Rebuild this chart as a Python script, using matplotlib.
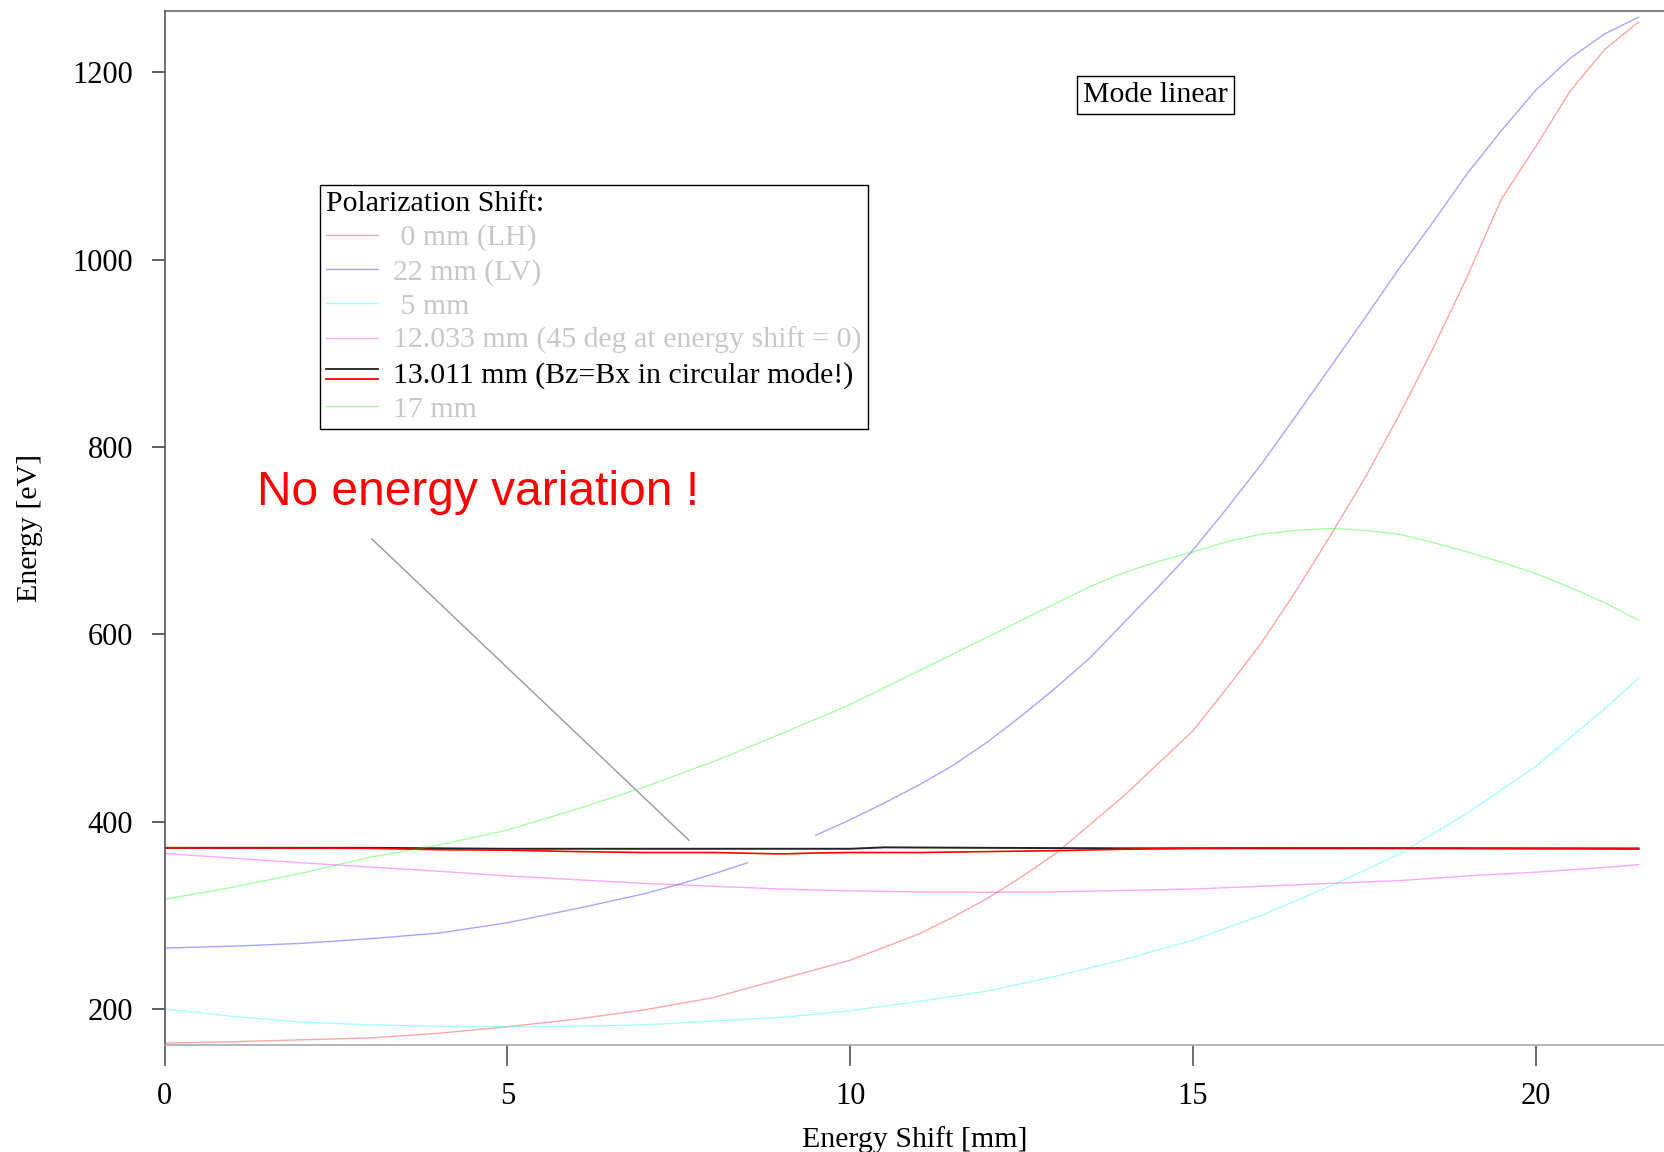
import numpy as np
import matplotlib
matplotlib.use("Agg")
import matplotlib.pyplot as plt
from matplotlib.lines import Line2D

# energy shift [mm] vs. photon energy [eV] for the different polarization shifts
shift_lh = [0, 1, 2, 3, 4, 5, 6, 7, 8, 9, 10, 11, 11.5, 12, 12.5, 13, 13.5, 14, 15, 15.5,
            16, 16.5, 17, 17.5, 18, 18.5, 19, 19.5, 20, 20.5, 21, 21.5]
energy_lh = [163.5, 165, 167, 169, 174, 181, 189, 199, 212, 232, 252, 280, 298, 318, 341, 366, 397, 428, 497, 543,
             591, 646, 705, 766, 833, 905, 982, 1065, 1121, 1180, 1224, 1254]

# 22 mm has no point between 8.5 and 9.5 mm
shift_lv = [0, 1, 2, 3, 4, 5, 6, 7, 7.5, 8, 8.5, 9, 9.5, 10, 10.5, 11, 11.5, 12, 12.5, 13, 13.5,
            14, 14.5, 15, 15.5, 16, 16.5, 17, 17.5, 18, 18.5, 19, 19.5, 20, 20.5, 21, 21.5]
energy_lv = [265, 267, 270, 275, 281, 292, 307, 323, 333, 344, 356, np.nan, 385.5, 402, 420, 439, 460, 485, 513, 543, 575,
             613, 651, 690, 735, 782, 833, 885, 937, 990, 1040, 1092, 1138, 1181, 1215, 1241, 1259]

shift_5 = [0, 1, 2, 3, 4, 5, 6, 7, 8, 9, 10, 11, 12, 13, 14, 15, 16, 17, 18, 19, 20, 21, 21.5]
energy_5 = [200, 192, 186, 183, 181.5, 181, 181.5, 183, 187, 191, 198, 208, 219, 235, 253, 273.5,
            300, 331, 365, 409, 459, 520, 553]

shift_12 = [0, 1, 2, 3, 4, 5, 6, 7, 8, 9, 10, 11, 12, 13, 14, 15, 16, 17, 18, 19, 20, 21, 21.5]
energy_12 = [366, 361, 356, 351.5, 347, 342, 338, 334, 331, 328, 326, 325, 324.5, 325, 326.5, 328,
             331, 334, 337, 342, 346, 351, 354]

shift_13_bz = [0, 3, 5, 7, 9, 10, 10.5, 12, 14, 16, 18, 21.5]
energy_13_bz = [372, 372, 371, 371, 371, 371, 372.5, 372, 371.5, 371.5, 371.5, 371]
shift_13_bx = [0, 3, 4, 5, 6, 7, 8, 9, 9.5, 10, 11, 12, 13, 14, 15, 16, 21.5]
energy_13_bx = [372, 371.5, 370, 369.5, 368, 367, 367, 365.5, 366.5, 367, 367, 368, 369, 370.5, 371.5, 372, 371.5]

shift_17 = [0, 1, 2, 3, 4, 5, 6, 7, 8, 9, 10, 11, 12, 13, 13.5, 14, 14.5, 15, 15.5, 16, 16.5,
            17, 17.5, 18, 18.5, 19, 19.5, 20, 20.5, 21, 21.5]
energy_17 = [317, 330, 345, 362, 375, 391, 413, 437, 464, 494, 525, 561, 597, 633, 651, 666, 678, 688, 699, 707, 711,
             713, 711, 707, 698, 688, 677, 665, 650, 634, 615]

labels = [" 0 mm (LH)", "22 mm (LV)", " 5 mm", "12.033 mm (45 deg at energy shift = 0)",
          "13.011 mm (Bz=Bx in circular mode!)", "17 mm"]

# annotation pointing at the flat 13.011 mm curves
note_start = (3.02, 702)
note_end = (7.65, 380)


class TwoLineHandler:
    # legend handle with the black and red lines stacked
    def legend_artist(self, legend, orig_handle, fontsize, handlebox):
        x0, y0 = handlebox.xdescent, handlebox.ydescent
        w, h = handlebox.width, handlebox.height
        top = Line2D([x0, x0 + w], [y0 + h * 0.62] * 2, color="#222222", lw=1.3)
        bottom = Line2D([x0, x0 + w], [y0 + h * 0.18] * 2, color="red", lw=1.3)
        handlebox.add_artist(top)
        handlebox.add_artist(bottom)
        return top


def main():
    plt.rcParams["font.family"] = ["Liberation Serif", "DejaVu Serif"]

    fig = plt.figure(figsize=(16.64, 11.52), dpi=100)
    ax = fig.add_axes([0.0989, 0.0929, 0.9011, 0.8979])

    a = 0.35
    l_lh, = ax.plot(shift_lh, energy_lh, color="red", alpha=a, lw=1)
    l_lv, = ax.plot(shift_lv, energy_lv, color="blue", alpha=a, lw=1)
    l_5, = ax.plot(shift_5, energy_5, color="cyan", alpha=a, lw=1)
    l_12, = ax.plot(shift_12, energy_12, color="magenta", alpha=a, lw=1)
    l_13, = ax.plot(shift_13_bz, energy_13_bz, color="#222222", lw=1.4)
    ax.plot(shift_13_bx, energy_13_bx, color="red", lw=1.2)
    l_17, = ax.plot(shift_17, energy_17, color="lime", alpha=a, lw=1)

    ax.set_xlim(0, 21.87)
    ax.set_ylim(161.5, 1266)
    ax.set_xticks([0, 5, 10, 15, 20])
    ax.set_yticks([200, 400, 600, 800, 1000, 1200])

    ax.spines["right"].set_visible(False)
    ax.spines["left"].set_color("#555555")
    ax.spines["top"].set_color("#666666")
    ax.spines["bottom"].set_color("#aaaaaa")
    for s in ["left", "top", "bottom"]:
        ax.spines[s].set_linewidth(1.2)
    ax.tick_params(axis="x", direction="out", length=15, width=1.2, color="#555555",
                   pad=12, labelsize=22)
    ax.tick_params(axis="y", direction="out", length=9.5, width=1.2, color="#444444",
                   pad=13, labelsize=22)

    ax.set_xlabel("Energy Shift [mm]", fontsize=21.5)
    ax.xaxis.set_label_coords(0.5, -0.078)
    ax.set_ylabel("Energy [eV]", fontsize=21.5)
    ax.yaxis.set_label_coords(-0.081, 0.5)

    # legend
    handles = [l_lh, l_lv, l_5, l_12, l_13, l_17]
    leg = ax.legend(handles, labels, title="Polarization Shift:", loc="upper left",
                    bbox_to_anchor=(0.1037, 0.8314), borderaxespad=0, fontsize=21.5,
                    title_fontsize=21.5, alignment="left", fancybox=False, edgecolor="black",
                    framealpha=1, handlelength=1.75, handletextpad=0.5, labelspacing=0.24,
                    borderpad=0.2, handler_map={l_13: TwoLineHandler()})
    leg.get_frame().set_linewidth(1.0)
    for i, t in enumerate(leg.get_texts()):
        t.set_color("black" if i == 4 else "#c8c8c8")

    ax.text(0.661, 0.918, "Mode linear", transform=ax.transAxes, fontsize=21.5,
            ha="center", va="center",
            bbox=dict(boxstyle="square,pad=0.2", fc="white", ec="black", lw=1))

    ax.text(1.345, 738, "No energy variation !", color="red", fontsize=34.5,
            family="Liberation Sans", ha="left", va="baseline")
    ax.annotate("", xy=note_end, xytext=note_start,
                arrowprops=dict(arrowstyle="-", color="#999999", lw=1, shrinkA=0, shrinkB=0))

    fig.savefig("out.png", dpi=100)


if __name__ == "__main__":
    main()
